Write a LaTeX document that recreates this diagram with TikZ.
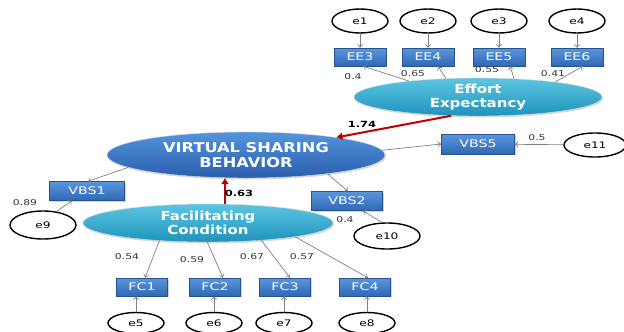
\documentclass[tikz,border=0pt]{standalone}
\usepackage{fontspec}
\setmainfont{DejaVu Sans}
\newfontfamily\latfont[FakeStretch=1.2]{DejaVu Sans}
\newfontfamily\boxfont[FakeStretch=1.35]{DejaVu Sans}
\usepackage{tikz}
\usetikzlibrary{shapes.geometric, arrows.meta, shadows}

\definecolor{boxtop}{HTML}{5A96DC}
\definecolor{boxbot}{HTML}{2F68B4}
\definecolor{vsbtop}{HTML}{5494DE}
\definecolor{vsbbot}{HTML}{2A5EAC}
\definecolor{cyantop}{HTML}{5CC6E2}
\definecolor{cyanbot}{HTML}{1F93BB}
\definecolor{pathred}{HTML}{C00000}

\tikzset{
  ind/.style={rectangle, draw=boxbot!80!black, top color=boxtop, bottom color=boxbot,
    text=white, minimum width=52pt, minimum height=18pt, inner sep=0pt,
    font=\boxfont\fontsize{10.5}{12}\selectfont,
    drop shadow={opacity=0.35, shadow xshift=1pt, shadow yshift=-1.2pt}},
  err/.style={ellipse, draw, line width=1.4pt, fill=white, minimum width=56pt,
    minimum height=24pt, inner sep=0pt, font=\boxfont\fontsize{9}{11}\selectfont},
  lat/.style={ellipse, draw=white!70!gray, text=white, align=center, inner sep=0pt,
    font=\latfont\fontsize{12.5}{14}\selectfont\bfseries,
    drop shadow={opacity=0.3, shadow xshift=1pt, shadow yshift=-1.5pt}},
  arr/.style={draw=gray, line width=0.7pt, -{To[length=3.5pt, width=6pt]}},
  red/.style={draw=pathred, line width=2pt, -{Triangle[length=6pt, width=7pt]}},
  wt/.style={font=\boxfont\fontsize{8}{9}\selectfont, text=black!80, inner sep=1pt}
}

\begin{document}
\begin{tikzpicture}[x=1pt, y=-1pt]
\useasboundingbox (0,0) rectangle (624,332);

% latent variables
\node[lat, minimum width=278pt, minimum height=46pt, top color=vsbtop, bottom color=vsbbot,
  font=\latfont\fontsize{13.5}{15}\selectfont\bfseries] (VSB) at (246,155) {VIRTUAL SHARING\\BEHAVIOR};
\node[lat, minimum width=248pt, minimum height=38pt, top color=cyantop, bottom color=cyanbot] (EE) at (478,97) {Effort\\Expectancy};
\node[lat, minimum width=250pt, minimum height=38pt, top color=cyantop, bottom color=cyanbot] (FC) at (208,223) {Facilitating\\Condition};

% Effort Expectancy indicators
\foreach \n/\x/\a/\s/\w/\lx/\ly [count=\i] in {3/360/167/3/0.4/353/77, 4/428/150/10/0.65/413/74,
    5/499/27/11/0.55/487/70, 6/577/11/6/0.41/553/74} {
  \node[ind] (EE\n) at (\x,57) {EE\n};
  \node[err] (e\i) at (\x,21) {e\i};
  \draw[arr] (e\i) -- (EE\n);
  \draw[arr] (EE.\a) -- ([xshift=\s pt]EE\n.south);
  \node[wt] at (\lx,\ly) {\w};
}

% Facilitating Condition indicators
\foreach \x/\ex/\a/\s/\w/\lx/\ly [count=\i] in {142/136/200/3/0.54/127/257, 215/214/268/8/0.59/192/260,
    285/284/342/5/0.67/252/257, 365/367/351/3/0.57/302/257} {
  \pgfmathtruncatemacro{\k}{\i+4}
  \node[ind, minimum width=51pt] (FC\i) at (\x,287) {FC\i};
  \node[err, minimum width=56pt, minimum height=21pt] (e\k) at (\ex,323) {e\k};
  \draw[arr] (e\k) -- (e\k |- FC\i.south);
  \draw[arr] (FC.\a) -- ([xshift=\s pt]FC\i.north);
  \node[wt] at (\lx,\ly) {\w};
}

% Virtual Sharing Behavior indicators
\node[ind, minimum width=75pt, minimum height=19pt] (VBS1) at (87,191) {VBS1};
\node[ind, minimum width=71pt, minimum height=19pt] (VBS2) at (347,201) {VBS2};
\node[ind, minimum width=73pt, minimum height=20pt] (VBS5) at (478,144) {VBS5};
\node[err, minimum width=66pt, minimum height=28pt] (e9) at (43,225) {e9};
\node[err, minimum width=66pt, minimum height=26pt] (e10) at (387,236) {e10};
\node[err, minimum width=62pt, minimum height=24pt] (e11) at (595,145) {e11};

\draw[arr] (VSB.186) -- ([xshift=1pt]VBS1.north);
\draw[arr] (VSB.347) -- ([xshift=1pt]VBS2.north);
\draw[arr] (VSB.2) -- (VBS5.west);
\draw[arr] (e9.45) -- ([xshift=-15pt]VBS1.south);
\draw[arr] (e10.111) -- ([xshift=16pt]VBS2.south);
\draw[arr] (e11) -- (VBS5);
\node[wt] at (25,203) {0.89};
\node[wt] at (345,220) {0.4};
\node[wt] at (537,138) {0.5};

% structural paths
\draw[red] (EE.215) -- (VSB.11);
\draw[red] (FC.north -| 225,0) -- (VSB.south -| 225,0);
\node[wt, font=\boxfont\fontsize{8.5}{9}\selectfont\bfseries, text=black] at (362,124) {1.74};
\node[wt, font=\boxfont\fontsize{8.5}{9}\selectfont\bfseries, text=black] at (239,193) {0.63};
\end{tikzpicture}
\end{document}
